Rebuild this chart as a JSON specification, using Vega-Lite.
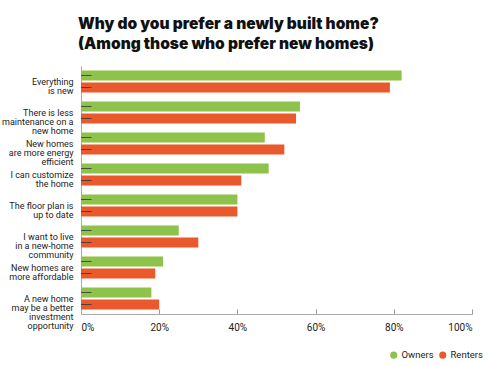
{
  "$schema": "https://vega.github.io/schema/vega-lite/v6.json",
  "width": 391,
  "height": 248,
  "autosize": {"type": "none"},
  "padding": {"left": 81, "top": 66, "right": 21, "bottom": 52},
  "background": "white",
  "title": {
    "text": ["Why do you prefer a newly built home?", "(Among those who prefer new homes)"],
    "anchor": "start",
    "frame": "group",
    "dx": -3,
    "offset": 14,
    "font": "Inter",
    "fontSize": 15.5,
    "fontWeight": 900,
    "lineHeight": 19.5,
    "color": "#111111"
  },
  "config": {
    "view": {"stroke": null},
    "font": "Roboto"
  },
  "data": {
    "values": [
      {"reason": "Everything|is new", "group": "Owners", "value": 82},
      {"reason": "Everything|is new", "group": "Renters", "value": 79},
      {"reason": "There is less|maintenance on a|new home", "group": "Owners", "value": 56},
      {"reason": "There is less|maintenance on a|new home", "group": "Renters", "value": 55},
      {"reason": "New homes|are more energy|efficient", "group": "Owners", "value": 47},
      {"reason": "New homes|are more energy|efficient", "group": "Renters", "value": 52},
      {"reason": "I can customize|the home", "group": "Owners", "value": 48},
      {"reason": "I can customize|the home", "group": "Renters", "value": 41},
      {"reason": "The floor plan is|up to date", "group": "Owners", "value": 40},
      {"reason": "The floor plan is|up to date", "group": "Renters", "value": 40},
      {"reason": "I want to live|in a new-home|community", "group": "Owners", "value": 25},
      {"reason": "I want to live|in a new-home|community", "group": "Renters", "value": 30},
      {"reason": "New homes are|more affordable", "group": "Owners", "value": 21},
      {"reason": "New homes are|more affordable", "group": "Renters", "value": 19},
      {"reason": "A new home|may be a better|investment|opportunity", "group": "Owners", "value": 18},
      {"reason": "A new home|may be a better|investment|opportunity", "group": "Renters", "value": 20}
    ]
  },
  "encoding": {
    "y": {
      "field": "reason",
      "type": "nominal",
      "sort": null,
      "scale": {"paddingInner": 0.29, "paddingOuter": 0.145},
      "axis": {
        "title": null,
        "labelExpr": "split(datum.label, '|')",
        "labelFontSize": 9,
        "labelLineHeight": 9.2,
        "labelColor": "#222222",
        "labelPadding": 8,
        "ticks": false,
        "domainColor": "#aaaaaa",
        "labelLimit": 0
      }
    },
    "yOffset": {
      "field": "group",
      "type": "nominal",
      "scale": {"paddingInner": 0.1667, "paddingOuter": 0}
    }
  },
  "layer": [
    {
      "mark": {"type": "bar"},
      "encoding": {
        "x": {
          "field": "value",
          "type": "quantitative",
          "scale": {"domain": [0, 100]},
          "axis": {
            "title": null,
            "values": [0, 20, 40, 60, 80, 100],
            "labelExpr": "datum.value + '%'",
            "grid": false,
            "domainColor": "#aaaaaa",
            "tickColor": "#999999",
            "tickSize": -5,
            "tickWidth": 1,
            "labelPadding": 13,
            "labelFontSize": 10,
            "labelColor": "#222222"
          }
        },
        "color": {
          "field": "group",
          "type": "nominal",
          "scale": {"domain": ["Owners", "Renters"], "range": ["#8dc24b", "#e9592b"]},
          "legend": {
            "title": null,
            "orient": "none",
            "direction": "horizontal",
            "legendX": 308,
            "legendY": 284,
            "symbolType": "circle",
            "symbolSize": 50,
            "symbolOpacity": 1,
            "labelFontSize": 9.5,
            "labelColor": "#222222",
            "columnPadding": 4,
            "labelOffset": 3
          }
        }
      }
    },
    {
      "mark": {"type": "rule", "color": "#333333", "strokeWidth": 0.8},
      "encoding": {
        "x": {"datum": 0, "type": "quantitative"},
        "x2": {"datum": 2.7}
      }
    }
  ]
}
